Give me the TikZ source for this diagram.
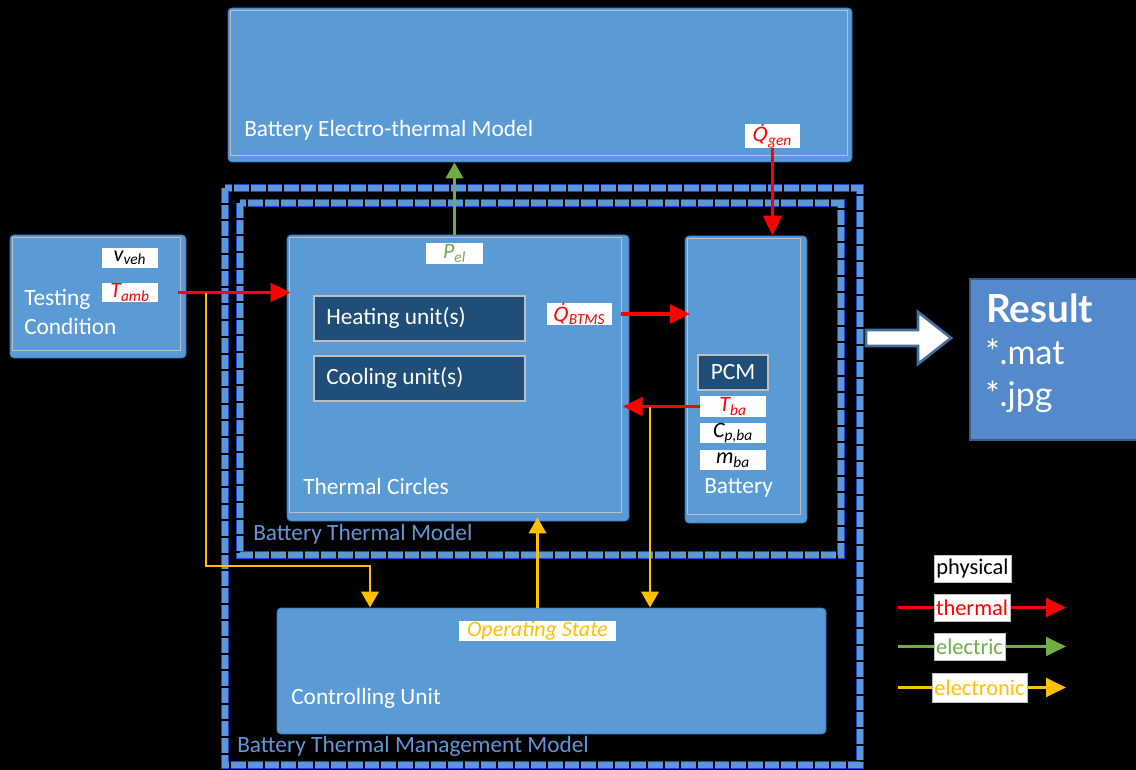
\documentclass[tikz,border=0pt]{standalone}
\usepackage{fontspec}
\setmainfont{Carlito}
\newfontfamily\resfont{Lato}
\newfontfamily\dvfont{DejaVu Sans}
\usetikzlibrary{arrows.meta,fit,calc}
\definecolor{boxblue}{RGB}{91,155,213}
\definecolor{boxedge}{RGB}{46,117,182}
\definecolor{innergray}{RGB}{191,191,191}
\definecolor{darkbox}{RGB}{31,78,121}
\definecolor{tred}{RGB}{255,0,0}
\definecolor{egreen}{RGB}{112,173,71}
\definecolor{eorange}{RGB}{255,192,0}
\definecolor{fblue}{RGB}{95,150,215}
\definecolor{fdark}{RGB}{25,70,210}
\definecolor{flabel}{RGB}{100,150,215}
\definecolor{resblue}{RGB}{84,137,204}
\definecolor{resedge}{RGB}{56,93,138}
\definecolor{arredge}{RGB}{65,113,156}
\newcommand{\Qdot}{{\dvfont\fontsize{14.5}{17}\selectfont\itshape Q̇}}
\begin{document}
\begin{tikzpicture}[x=0.75pt,y=-0.75pt,
  font=\fontsize{17.5}{20}\selectfont,
  blk/.style={fill=boxblue, draw=boxedge, line width=0.6pt, rounded corners=3pt, inner sep=0pt},
  unitbox/.style={fill=darkbox, draw=innergray, line width=1.2pt, inner sep=0pt},
  lbl/.style={fill=white, inner sep=0pt, font=\fontsize{16.5}{18}\selectfont\itshape},
  boxtxt/.style={text=white, anchor=west, inner sep=0pt},
  frametxt/.style={text=flabel, anchor=west, inner sep=0pt, font=\fontsize{17.5}{20}\selectfont},
  tharrow/.style={draw=tred, line width=2.3pt, -{Triangle[length=15pt,width=14pt]}},
  elarrow/.style={draw=egreen, line width=2.2pt, -{Triangle[length=12pt,width=13pt]}},
  orarrow/.style={draw=eorange, line width=1.9pt, -{Triangle[length=12pt,width=13pt]}},
  legarrowr/.style={draw=tred, line width=2.2pt, -{Triangle[length=15pt,width=14pt]}},
  legarrowg/.style={draw=egreen, line width=2.2pt, -{Triangle[length=15pt,width=14pt]}},
  legarrowo/.style={draw=eorange, line width=2.2pt, -{Triangle[length=15pt,width=14pt]}},
  legbox/.style={fill=white, draw=innergray, line width=0.5pt, inner sep=0pt, font=\fontsize{16.8}{18}\selectfont},
  frameA/.style={draw=fdark, line width=5.5pt, dash pattern=on 11pt off 1.5pt},
  frameB/.style={draw=fblue, line width=4pt, dash pattern=on 11pt off 1.5pt}
]
\useasboundingbox (0,0) rectangle (1136,770);
\fill[black] (0,0) rectangle (1136,770);

% dashed frames
\draw[frameA] (225,188) rectangle (860,765);
\draw[frameB] (225,188) rectangle (860,765);
\draw[frameA] (240,203) rectangle (841,555);
\draw[frameB] (240,203) rectangle (841,555);
\node[frametxt] (btmlbl) at (253,534) {Battery Thermal Model};
\node[frametxt] (btmmlbl) at (237,746) {Battery Thermal Management Model};

% Battery Electro-thermal Model
\node[blk, fit={(228,8)(852,162)}] (bem) {};
\draw[innergray, line width=1.2pt] ([shift={(3,3)}]bem.north west) rectangle ([shift={(-5,-7)}]bem.south east);
\node[boxtxt] (bemtxt) at (244,130) {Battery Electro-thermal Model};
\node[lbl, minimum width=41.25pt, minimum height=16.5pt, text=tred] (qgen) at (772.5,136) {\Qdot\textsubscript{gen}};

% Testing Condition
\node[blk, fit={(10,235)(186,358)}] (tc) {};
\draw[innergray, line width=1.2pt] ([shift={(3,3)}]tc.north west) rectangle ([shift={(-6,-8)}]tc.south east);
\node[boxtxt, align=left, font=\fontsize{17.5}{21.5}\selectfont] (tctxt) at (24,312) {Testing\\Condition};
\node[lbl, minimum width=42pt, minimum height=15pt] (vveh) at (130,258) {v\textsubscript{veh}};
\node[lbl, minimum width=42pt, minimum height=14.5pt, text=tred] (tamb) at (130,292.5) {T\textsubscript{amb}};

% Thermal Circles
\node[blk, fit={(287,235)(629,521)}] (tcirc) {};
\draw[innergray, line width=1.2pt] ([shift={(3,3)}]tcirc.north west) rectangle ([shift={(-8,-9)}]tcirc.south east);
\node[boxtxt] (tctxt2) at (303,486) {Thermal Circles};
\node[lbl, minimum width=42.75pt, minimum height=15.75pt, text=egreen] (pel) at (454.5,253.5) {P\textsubscript{el}};
\node[unitbox, fit={(314,296)(525,341)}] (heat) {};
\node[boxtxt] (heattxt) at (326,318) {Heating unit(s)};
\node[unitbox, fit={(314,356)(525,401)}] (cool) {};
\node[boxtxt] (cooltxt) at (326,378) {Cooling unit(s)};
\node[lbl, minimum width=48.75pt, minimum height=16.5pt, text=tred] (qbtms) at (579.5,314) {\Qdot\textsubscript{BTMS}};

% Battery
\node[blk, fit={(685,236)(807,523)}] (bat) {};
\draw[innergray, line width=1.2pt] ([shift={(3,3)}]bat.north west) rectangle ([shift={(-7,-9)}]bat.south east);
\node[unitbox, minimum width=52.5pt, minimum height=26.25pt, text=white] (pcm) at (733,372.5) {PCM};
\node[lbl, minimum width=49.5pt, minimum height=15.5pt, text=tred] (tba) at (733,406.5) {T\textsubscript{ba}};
\node[lbl, minimum width=49.5pt, minimum height=15pt] (cpba) at (733,433) {C\textsubscript{p,ba}};
\node[lbl, minimum width=49.5pt, minimum height=15pt] (mba) at (733,460) {m\textsubscript{ba}};
\node[boxtxt] (battxt) at (704,488) {Battery};

% Controlling Unit
\node[blk, fit={(277,608)(826,734)}] (cu) {};
\node[boxtxt] (cutxt) at (291,698) {Controlling Unit};
\node[lbl, minimum width=117.75pt, minimum height=15pt, text=eorange] (opst) at (537.5,631) {Operating State};

% Result
\node[fill=resblue, draw=resedge, line width=1.5pt, inner sep=0pt, fit={(970,279)(1142,440)}] (res) {};
\node[anchor=west, text=white, inner sep=0pt, font=\resfont\bfseries\fontsize{29}{32}\selectfont] (restitle) at (986,308) {Result};
\node[anchor=west, text=white, inner sep=0pt, font=\resfont\fontsize{25.5}{30}\selectfont] (resmat) at (985,352) {*.mat};
\node[anchor=west, text=white, inner sep=0pt, font=\resfont\fontsize{25.5}{30}\selectfont] (resjpg) at (985,397) {*.jpg};

% big arrow to result
\draw[fill=white, draw=arredge, line width=2pt, line join=miter]
  (866,330) -- (918,330) -- (918,312) -- (951,338) -- (918,364) -- (918,346) -- (866,346) -- cycle;

% connectors
\draw[elarrow] (tcirc.north -| pel) -- (bem.south -| pel);
\draw[tharrow] (qgen.south) -- (bat.north -| qgen);
\draw[tharrow] ([xshift=-6pt]tc.east |- tamb) -- ([xshift=3pt]tcirc.west |- tamb);
\draw[tharrow] ([xshift=-6pt]tcirc.east |- qbtms) -- ([xshift=4pt]bat.west |- qbtms);
\draw[tharrow] (tba.west) -- ([xshift=-5pt]tcirc.east |- tba);

\coordinate (tj) at (206,293);
\coordinate (tjb) at (206,566);
\coordinate (cux) at (370,0);
\coordinate (tbx) at (650,0);
\draw[orarrow] (tj) -- (tjb) -| (cu.north -| cux);
\draw[orarrow] (cu.north -| opst) -- ([yshift=3pt]tcirc.south -| opst);
\draw[orarrow] (tba.west -| tbx) -- (cu.north -| tbx);

% legend
\coordinate (l1s) at (898,607.5);
\coordinate (l1e) at (1066,607.5);
\coordinate (l2s) at (898,646.5);
\coordinate (l2e) at (1066,646.5);
\coordinate (l3s) at (898,687.5);
\coordinate (l3e) at (1066,687.5);
\draw[legarrowr] (l1s) -- (l1e);
\draw[legarrowg] (l2s) -- (l2e);
\draw[legarrowo] (l3s) -- (l3e);
\node[legbox, minimum width=57.75pt, minimum height=20.25pt] (lphys) at (972.5,568.5) {physical};
\node[legbox, minimum width=57pt, minimum height=20.25pt, text=tred] (ltherm) at (972,607.5) {thermal};
\node[legbox, minimum width=53.25pt, minimum height=20.25pt, text=egreen] (lelec) at (969.5,646.5) {electric};
\node[legbox, minimum width=71.25pt, minimum height=21.75pt, text=eorange] (lelon) at (979.5,687.5) {electronic};
\end{tikzpicture}
\end{document}
